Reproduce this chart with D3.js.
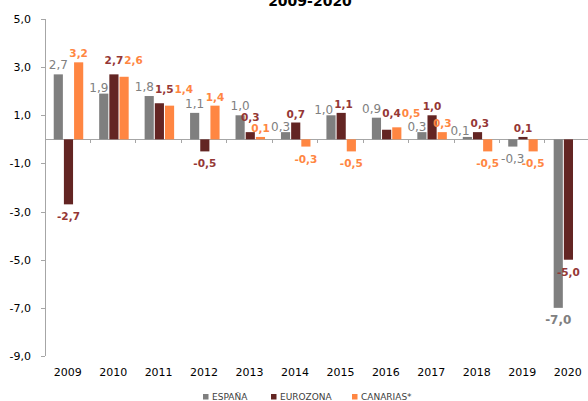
<!DOCTYPE html>
<meta charset="utf-8">
<style>
body { margin: 0; background: #fff; }
svg text { font-family: "DejaVu Sans", Verdana, sans-serif; }
.axis path, .axis line { fill: none; stroke: #a6a6a6; shape-rendering: crispEdges; }
.axis text { font-size: 11px; fill: #000; }
</style>
<body>
<script src="https://cdn.jsdelivr.net/npm/d3@7"></script>
<script>
// data
var years = ["2009","2010","2011","2012","2013","2014","2015","2016","2017","2018","2019","2020"];
var espana   = [2.7, 1.9, 1.8, 1.1, 1.0, 0.3, 1.0, 0.9, 0.3, 0.1, -0.3, -7.0];
var eurozona = [-2.7, 2.7, 1.5, -0.5, 0.3, 0.7, 1.1, 0.4, 1.0, 0.3, 0.1, -5.0];
var canarias = [3.2, 2.6, 1.4, 1.4, 0.1, -0.3, -0.5, 0.5, 0.3, -0.5, -0.5, null];
var seriesNames = ["ESPAÑA", "EUROZONA", "CANARIAS*"];
var yTicks = [5, 3, 1, -1, -3, -5, -7, -9];

var barColors = ["#7f7f7f", "#632523", "#ff8642"];
var labelColors = ["#808080", "#953735", "#ff8642"];

var width = 588, height = 401;
var svg = d3.select("body").append("svg")
    .attr("width", width)
    .attr("height", height);

var series = [espana, eurozona, canarias].map(function(vals, i) {
  return { name: seriesNames[i], idx: i, values: vals };
});

var x = d3.scaleBand().domain(years).range([45, 45 + 12 * 45.45]).padding(0);
var x1 = d3.scaleBand().domain([0, 1, 2]).range([0, 29.5]).paddingInner(0.1);
var y = d3.scaleLinear().domain([-9, 5]).range([356, 19]);

var fmt = function(v) { return d3.format(".1f")(v).replace(".", ",").replace("−", "-"); };

// title (first line is cut off in the original)
svg.append("text")
  .attr("x", 310).attr("y", 6)
  .attr("text-anchor", "middle")
  .style("font-size", "14px").style("font-weight", "bold")
  .text("2009-2020");

// y axis
var yAxis = d3.axisLeft(y).tickValues(yTicks).tickSize(4).tickPadding(10).tickFormat(fmt);
svg.append("g").attr("class", "axis")
  .attr("transform", "translate(45,0)")
  .call(yAxis)
  .call(function(g) { g.select(".domain").attr("d", "M0," + y(5) + "V" + y(-9)); });

// zero line with category ticks
var xAxis = d3.axisBottom(x).tickSize(0).tickFormat("");
var xg = svg.append("g").attr("class", "axis")
  .attr("transform", "translate(0," + y(0) + ")")
  .call(xAxis);
xg.select(".domain").attr("d", "M45,0H" + width);
xg.selectAll(".tick line").remove();
xg.selectAll(".sep").data(years.slice(1)).enter().append("line")
  .attr("class", "sep")
  .attr("x1", function(d) { return x(d); }).attr("x2", function(d) { return x(d); })
  .attr("y1", 0).attr("y2", 4);

// year labels at the bottom
svg.append("g").selectAll("text").data(years).enter().append("text")
  .attr("x", function(d) { return x(d) + x.bandwidth() / 2; })
  .attr("y", 376)
  .attr("text-anchor", "middle")
  .style("font-size", "11px")
  .text(function(d) { return d; });

// bars
var groupOffset = function(i) { return x.bandwidth() / 2 - 14 + x1(i); };
var points = [];
series.forEach(function(s) {
  s.values.forEach(function(v, j) {
    if (v !== null) points.push({ v: v, year: years[j], idx: s.idx });
  });
});

svg.append("g").selectAll("rect").data(points).enter().append("rect")
  .attr("x", function(d) { return x(d.year) + groupOffset(d.idx); })
  .attr("y", function(d) { return y(Math.max(0, d.v)); })
  .attr("width", x1.bandwidth())
  .attr("height", function(d) { return Math.abs(y(d.v) - y(0)); })
  .attr("fill", function(d) { return barColors[d.idx]; });

// value labels
var labels = svg.append("g").selectAll("text").data(points).enter().append("text")
  .attr("text-anchor", "middle")
  .style("font-size", function(d) { return d.idx === 0 ? "12px" : "10.5px"; })
  .style("font-weight", function(d) { return d.idx === 0 && d.v > -1 ? "normal" : "bold"; })
  .attr("fill", function(d) { return labelColors[d.idx]; })
  .text(function(d) { return fmt(d.v); })
  .each(function(d) {
    d.w = this.getComputedTextLength();
    d.h = d.idx === 0 ? 11 : 10;
    d.lx = x(d.year) + groupOffset(d.idx) + x1.bandwidth() / 2;
    d.ly = d.v >= 0 ? y(d.v) - 5 : y(d.v) + 16;
  });

// keep labels of one year from running into each other (like the manual placement in the original)
function overlapX(a, b) { return Math.min(a.lx + a.w / 2, b.lx + b.w / 2) - Math.max(a.lx - a.w / 2, b.lx - b.w / 2); }
function overlapY(a, b) { return Math.min(a.ly, b.ly) - Math.max(a.ly - a.h, b.ly - b.h); }
years.forEach(function(yr) {
  var g = points.filter(function(d) { return d.year === yr; });
  var byIdx = {};
  g.forEach(function(d) { byIdx[d.idx] = d; });
  var es = byIdx[0], eu = byIdx[1], ca = byIdx[2];
  if (eu && ca) {
    var ox2 = overlapX(eu, ca), oy2 = overlapY(eu, ca);
    if (ox2 > -1 && oy2 > 0) {
      if (eu.v >= 0 && ca.v >= 0 && eu.v - ca.v > 0.15) {
        eu.ly -= oy2 + 1;            // stack the maroon label above
      } else if (eu.v >= 0 && ca.v >= 0) {
        eu.ly = ca.ly = Math.min(eu.ly, ca.ly) - 5;   // side by side
      }
    }
  }
  // grey label must clear the maroon bar
  if (es && eu && es.v >= 0 && eu.v > es.v) {
    var barLeft = x(yr) + groupOffset(1);
    if (es.lx + es.w / 2 > barLeft - 1) { es.lx = barLeft - 1 - es.w / 2; es.ly = y(es.v) - 1.5; }
  }
  if (es && eu) {
    var ox = overlapX(es, eu), oy = overlapY(es, eu);
    if (ox > -1 && oy > 0) { es.lx -= (ox + 1) / 2; eu.lx += (ox + 1) / 2; }
  }
  if (eu && ca) {
    var ox3 = overlapX(eu, ca), oy3 = overlapY(eu, ca);
    if (ox3 > -1 && oy3 > 0) ca.lx += ox3 + 1;
  }
});
labels.attr("x", function(d) { return d.lx; }).attr("y", function(d) { return d.ly; });

// legend
var legendX = [203, 271, 352];
var legend = svg.selectAll(".legend").data(series).enter().append("g")
  .attr("class", "legend")
  .attr("transform", function(d, i) { return "translate(" + legendX[i] + ",394)"; });
legend.append("rect").attr("width", 5.5).attr("height", 5.5)
  .attr("fill", function(d) { return barColors[d.idx]; });
legend.append("text").attr("x", 9).attr("y", 6.3)
  .style("font-size", "9px").attr("fill", "#404040")
  .text(function(d) { return d.name; });
</script>
</body>
